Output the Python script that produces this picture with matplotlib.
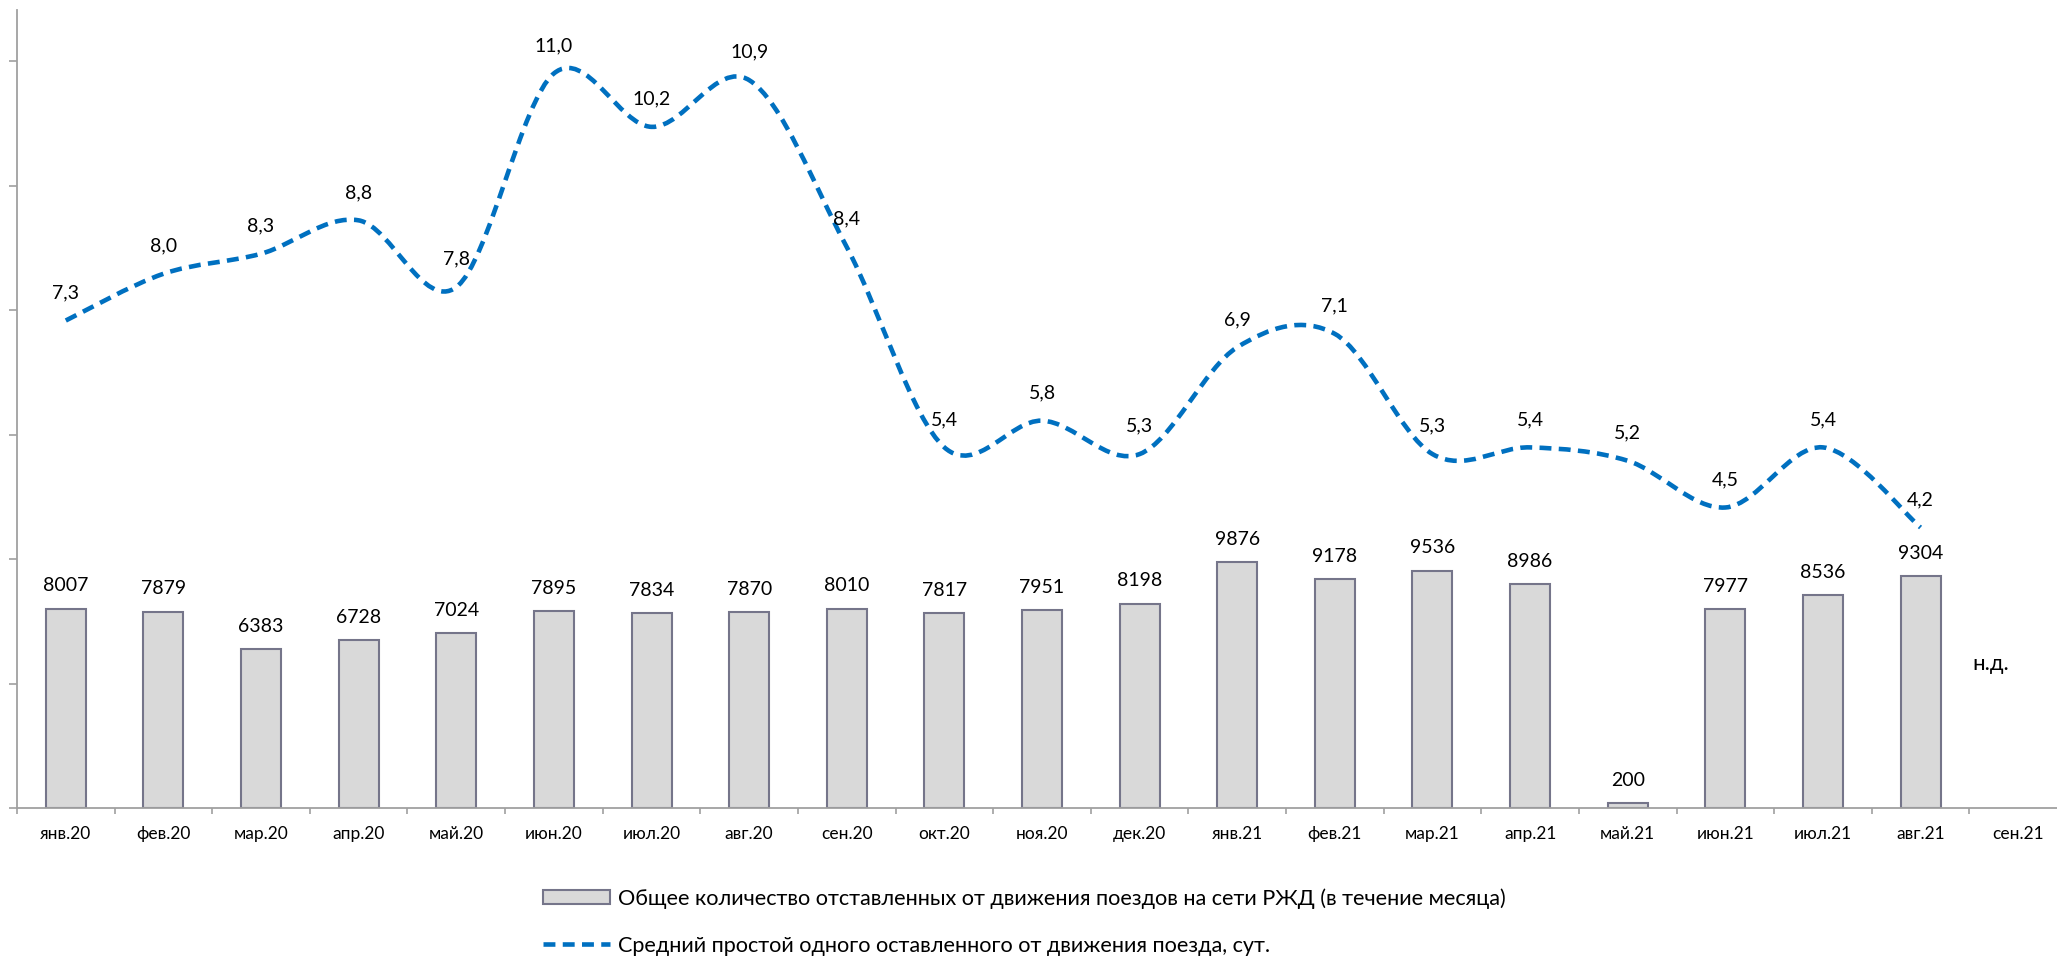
import numpy as np
import matplotlib
matplotlib.use("Agg")
import matplotlib.pyplot as plt
from matplotlib.path import Path
from matplotlib.patches import PathPatch, Patch
from matplotlib.lines import Line2D
import matplotlib.ticker as ticker

plt.rcParams["font.family"] = ["Lato", "DejaVu Sans"]

months = ["янв.20", "фев.20", "мар.20", "апр.20", "май.20", "июн.20", "июл.20",
          "авг.20", "сен.20", "окт.20", "ноя.20", "дек.20", "янв.21", "фев.21",
          "мар.21", "апр.21", "май.21", "июн.21", "июл.21", "авг.21", "сен.21"]

# trains taken out of service per month (no data for сен.21)
trains = [8007, 7879, 6383, 6728, 7024, 7895, 7834, 7870, 8010, 7817, 7951,
          8198, 9876, 9178, 9536, 8986, 200, 7977, 8536, 9304]

# average idle time, days
idle = [7.3, 8.0, 8.3, 8.8, 7.8, 11.0, 10.2, 10.9, 8.4, 5.4, 5.8, 5.3, 6.9,
        7.1, 5.3, 5.4, 5.2, 4.5, 5.4, 4.2]

bar_label = "Общее количество отставленных от движения поездов на сети РЖД (в течение месяца)"
line_label = "Средний простой одного оставленного от движения поезда, сут."

bar_face = "#d9d9d9"
bar_edge = "#75758a"
line_col = "#0070c0"
axis_col = "#a0a0a0"

W, H = 2057, 957
fig = plt.figure(figsize=(W / 100, H / 100), dpi=100)
ax = fig.add_axes([17 / W, (H - 808) / H, 2050 / W, 798 / H])
ax2 = ax.twinx()

x = np.arange(len(months))
ax.bar(x[:len(trains)], trains, width=0.41, color=bar_face, edgecolor=bar_edge,
       linewidth=1.5, zorder=2)
ax.set_xlim(-0.5, len(months) - 0.5)
ax.set_ylim(0, 32050)

for xi, v in zip(x, trains):
    ax.annotate(str(v), (xi, v), xytext=(0, 16.5), textcoords="offset points",
                ha="center", va="center", fontsize=14, color="#000000")

ax.text(x[-1] - 0.28, 5800, "н.д.", ha="center", va="center", fontsize=16)

# smoothed line like Excel: cubic bezier through the points (Catmull-Rom)
xs = x[:len(idle)].astype(float)
ys = np.array(idle, dtype=float)
verts = [(xs[0], ys[0])]
codes = [Path.MOVETO]
n = len(xs)
for i in range(n - 1):
    p0 = np.array([xs[max(i - 1, 0)], ys[max(i - 1, 0)]])
    p1 = np.array([xs[i], ys[i]])
    p2 = np.array([xs[i + 1], ys[i + 1]])
    p3 = np.array([xs[min(i + 2, n - 1)], ys[min(i + 2, n - 1)]])
    c1 = p1 + (p2 - p0) / 6
    c2 = p2 - (p3 - p1) / 6
    verts += [tuple(c1), tuple(c2), tuple(p2)]
    codes += [Path.CURVE4] * 3
curve = PathPatch(Path(verts, codes), facecolor="none", edgecolor=line_col,
                  linewidth=3.3, linestyle=(0, (2.6, 1.6)), zorder=3)
ax2.add_patch(curve)
ax2.set_ylim(0, 11.95)

for xi, v in zip(xs, idle):
    ax2.annotate(f"{v:.1f}".replace(".", ","), (xi, v), xytext=(0, 20),
                 textcoords="offset points", ha="center", va="center",
                 fontsize=14, color="#000000")

# axes styling
for a in (ax, ax2):
    for s in ("top", "right"):
        a.spines[s].set_visible(False)
ax2.spines["left"].set_visible(False)
ax2.spines["bottom"].set_visible(False)
ax2.set_yticks([])
ax.spines["left"].set_color(axis_col)
ax.spines["bottom"].set_color(axis_col)
ax.spines["left"].set_linewidth(1.3)
ax.spines["bottom"].set_linewidth(1.3)

ax.set_yticks(np.arange(0, 30001, 5000))
ax.yaxis.set_major_formatter(ticker.NullFormatter())
ax.tick_params(axis="y", direction="out", length=6, width=1.2, color=axis_col)

ax.set_xticks(np.arange(-0.5, len(months), 1.0))
ax.xaxis.set_major_formatter(ticker.NullFormatter())
ax.set_xticks(x, minor=True)
ax.set_xticklabels(months, minor=True)
ax.tick_params(axis="x", which="major", direction="out", length=4, width=1.2,
               color=axis_col)
ax.tick_params(axis="x", which="minor", length=0, pad=13, labelsize=12.5,
               labelcolor="#000000")

handles = [Patch(facecolor=bar_face, edgecolor=bar_edge, linewidth=1.5),
           Line2D([0], [0], color=line_col, linewidth=3.3,
                  linestyle=(0, (2.6, 1.6)))]
fig.legend(handles, [bar_label, line_label], loc="upper left",
           bbox_to_anchor=(543 / W, 1 - 888 / H), frameon=False, fontsize=15.6,
           handlelength=3.1, handleheight=0.6, handletextpad=0.35,
           labelspacing=1.25, borderpad=0, borderaxespad=0)

fig.savefig("out.png", dpi=100)
